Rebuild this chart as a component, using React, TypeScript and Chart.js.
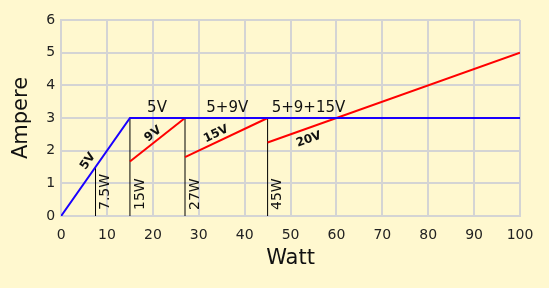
import React, { useEffect, useRef } from "react";
import { Chart, registerables } from "chart.js";

Chart.register(...registerables);

// Blue: current limit of the 5V profile
const blueW = [0, 15, 100];
const blueA = [0, 3, 3];

// Red: higher-voltage profiles (W, A)
const red9W = [15, 27];
const red9A = [1.67, 3];
const red15W = [27, 45];
const red15A = [1.8, 3];
const red20W = [45, 100];
const red20A = [2.25, 5];

// Vertical power markers
const markerW = [7.5, 15, 27, 45];
const markerTop = [1.5, 3, 3, 3];
const markerLabels = ["7.5W", "15W", "27W", "45W"];

// Region labels above the 3A line
const regionLabels = ["5V", "5+9V", "5+9+15V"];
const regionX = [20.9, 36.2, 53.9];

// Slope labels along lines
const slopeLabels = ["5V", "9V", "15V", "20V"];

const xTicks = [0, 10, 20, 30, 40, 50, 60, 70, 80, 90, 100];
const yTicks = [0, 1, 2, 3, 4, 5, 6];

const BG = "#fff8cf";
const FONT = "'DejaVu Sans', sans-serif";

function pts(xs: number[], ys: number[]) {
  return xs.map((x, i) => ({ x, y: ys[i] }));
}

export default function App() {
  const ref = useRef<HTMLCanvasElement | null>(null);
  useEffect(() => {
    if (!ref.current) return;
    const labelPlugin = {
      id: "labels",
      afterDatasetsDraw(chart: any) {
        const ctx = chart.ctx;
        const xs = chart.scales.x;
        const ys = chart.scales.y;
        ctx.save();
        ctx.fillStyle = "#111";
        // marker labels rotated
        ctx.font = `14px ${FONT}`;
        markerW.forEach((w, i) => {
          const px = xs.getPixelForValue(w);
          const py = ys.getPixelForValue(0);
          ctx.save();
          ctx.translate(px + 10, py - 6);
          ctx.rotate(-Math.PI / 2);
          ctx.textAlign = "left";
          ctx.textBaseline = "middle";
          ctx.fillText(markerLabels[i], 0, 0);
          ctx.restore();
        });
        // region labels
        ctx.font = `15px ${FONT}`;
        ctx.textAlign = "center";
        ctx.textBaseline = "alphabetic";
        regionLabels.forEach((t, i) => {
          ctx.fillText(t, xs.getPixelForValue(regionX[i]), ys.getPixelForValue(3) - 6);
        });
        // slope labels: t = position along segment, off = perpendicular offset (positive = above)
        const segs = [
          { w: blueW.slice(0, 2), a: blueA.slice(0, 2), t: 0.51, off: 10 },
          { w: red9W, a: red9A, t: 0.51, off: 8 },
          { w: red15W, a: red15A, t: 0.42, off: 8.5 },
          { w: red20W, a: red20A, t: 0.15, off: -10 },
        ];
        ctx.font = `bold 12px ${FONT}`;
        ctx.textBaseline = "middle";
        segs.forEach((s, i) => {
          const x0 = xs.getPixelForValue(s.w[0]);
          const y0 = ys.getPixelForValue(s.a[0]);
          const x1 = xs.getPixelForValue(s.w[1]);
          const y1 = ys.getPixelForValue(s.a[1]);
          const ang = Math.atan2(y1 - y0, x1 - x0);
          const cx = x0 + (x1 - x0) * s.t;
          const cy = y0 + (y1 - y0) * s.t;
          const nx = Math.sin(ang);
          const ny = -Math.cos(ang);
          ctx.save();
          ctx.translate(cx + nx * s.off, cy + ny * s.off + 1);
          ctx.rotate(ang);
          ctx.textAlign = "center";
          ctx.fillText(slopeLabels[i], 0, 0);
          ctx.restore();
        });
        ctx.restore();
      },
    };
    const markerSets = markerW.map((w, i) => ({
      data: pts([w, w], [0, markerTop[i]]),
      borderColor: "#000",
      borderWidth: 1,
      pointRadius: 0,
      showLine: true,
      order: 5,
    }));
    const chart = new Chart(ref.current, {
      type: "scatter",
      data: {
        datasets: [
          ...markerSets,
          { data: pts(blueW, blueA), borderColor: "#1a00ff", borderWidth: 2, pointRadius: 0, showLine: true, order: 1 },
          { data: pts(red9W, red9A), borderColor: "#ff0000", borderWidth: 2, pointRadius: 0, showLine: true, order: 2 },
          { data: pts(red15W, red15A), borderColor: "#ff0000", borderWidth: 2, pointRadius: 0, showLine: true, order: 2 },
          { data: pts(red20W, red20A), borderColor: "#ff0000", borderWidth: 2, pointRadius: 0, showLine: true, order: 2 },
        ] as any,
      },
      options: {
        animation: false,
        responsive: false,
        maintainAspectRatio: false,
        layout: { padding: { top: 20, right: 29, left: 9, bottom: 17 } },
        plugins: { legend: { display: false }, tooltip: { enabled: false } },
        scales: {
          x: {
            type: "linear",
            min: 0,
            max: 100,
            afterBuildTicks: (s: any) => { s.ticks = xTicks.map((v) => ({ value: v })); },
            grid: { color: "#d4d4d4", lineWidth: 2, drawTicks: false },
            border: { color: "#d4d4d4", width: 2 },
            ticks: { color: "#222", font: { family: FONT, size: 14 }, padding: 11, maxRotation: 0 },
            title: { display: true, text: "Watt", color: "#111", font: { family: FONT, size: 21 }, padding: { top: -9, bottom: 0 } },
          },
          y: {
            type: "linear",
            min: 0,
            max: 6,
            afterBuildTicks: (s: any) => { s.ticks = yTicks.map((v) => ({ value: v })); },
            grid: { color: "#d4d4d4", lineWidth: 2, drawTicks: false },
            border: { color: "#d4d4d4", width: 2 },
            ticks: { color: "#222", font: { family: FONT, size: 14 }, padding: 6 },
            title: { display: true, text: "Ampere", color: "#111", font: { family: FONT, size: 21 }, padding: { top: 0, bottom: 6 } },
          },
        },
      } as any,
      plugins: [labelPlugin],
    });
    return () => chart.destroy();
  }, []);
  return (
    <div style={{ position: "fixed", left: 0, top: 0, width: 549, height: 288, background: BG }}>
      <canvas ref={ref} width={549} height={288} style={{ width: 549, height: 288 }} />
    </div>
  );
}
